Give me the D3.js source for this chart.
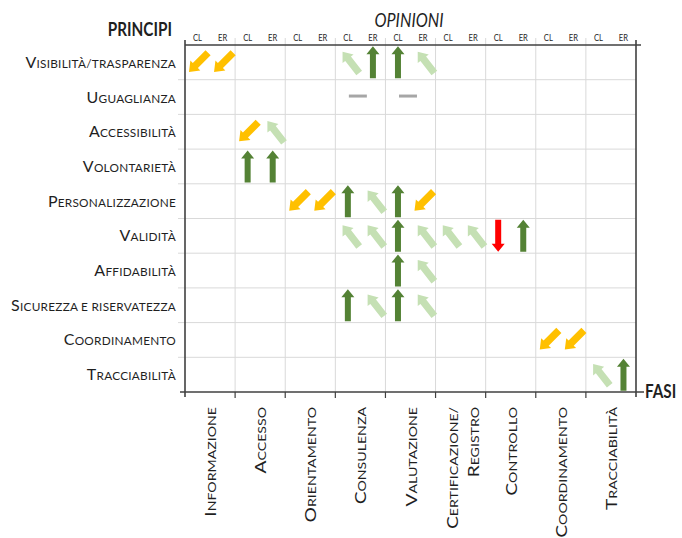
<!DOCTYPE html>
<html><head><meta charset="utf-8">
<script src="https://cdn.jsdelivr.net/npm/d3@7"></script>
<style>
body{margin:0;background:#fff;}
text{font-family:Lato,"Open Sans",sans-serif;fill:#1f1f1f;}
</style></head><body>
<svg id="c" width="682" height="538"></svg>
<script>
// ---- data ----
const phases = [["Informazione"],["Accesso"],["Orientamento"],["Consulenza"],["Valutazione"],["Certificazione/","Registro"],["Controllo"],["Coordinamento"],["Tracciabilità"]];
const opinions = ["CL","ER"];
const principles = ["Visibilità/trasparenza","Uguaglianza","Accessibilità","Volontarietà","Personalizzazione","Validità","Affidabilità","Sicurezza e riservatezza","Coordinamento","Tracciabilità"];
// one string per principle, one character per phase×opinion column
// G = strong positive (↑), L = positive (↖), Y = negative (↙), R = strong negative (↓), - = neutral
const ratings = [
  "YY....LGGL........",
  "......-.-.........",
  "..YL..............",
  "..GG..............",
  "....YYGLGY........",
  "......LLGLLLRG....",
  "........GL........",
  "......GLGL........",
  "..............YY..",
  "................LG"
];
const title = {rows:"PRINCIPI", cols:"OPINIONI", axis:"FASI"};

// ---- layout ----
const svg = d3.select("#c");
const X0=185, X1=636, Y0=45, Y1=392;
const subCols = d3.range(phases.length*opinions.length);
const xPhase = d3.scaleBand().domain(d3.range(phases.length)).range([X0,X1]);
const xSub = d3.scaleBand().domain(subCols).range([X0,X1]);
const y = d3.scaleBand().domain(d3.range(principles.length)).range([Y0,Y1]);

const grid = svg.append("g");
grid.selectAll("line.v").data(d3.range(1,phases.length)).join("line")
  .attr("x1",d=>xPhase(d)).attr("x2",d=>xPhase(d))
  .attr("y1",Y0-7).attr("y2",Y1).attr("stroke","#d9d9d9").attr("stroke-width",1);
grid.selectAll("line.h").data(d3.range(1,principles.length)).join("line")
  .attr("x1",X0-7).attr("x2",X1).attr("y1",d=>y(d)).attr("y2",d=>y(d))
  .attr("stroke","#d9d9d9").attr("stroke-width",1);

// axes
const ax = svg.append("g").attr("stroke","#404040").attr("stroke-width",1.6);
ax.append("line").attr("x1",X0).attr("x2",X1+5).attr("y1",Y0).attr("y2",Y0);
ax.append("line").attr("x1",X0-5).attr("x2",X1+8).attr("y1",Y1).attr("y2",Y1);
ax.append("line").attr("x1",X0).attr("x2",X0).attr("y1",Y0-5).attr("y2",Y1+5);
ax.append("line").attr("x1",X1).attr("x2",X1).attr("y1",Y0-5).attr("y2",Y1+5);
ax.selectAll("line.t").data(d3.range(1,phases.length)).join("line")
  .attr("x1",d=>xPhase(d)).attr("x2",d=>xPhase(d)).attr("y1",Y1).attr("y2",Y1+6)
  .attr("stroke-width",1.2);

function smallCaps(sel, str, big, small){
  sel.append("tspan").attr("font-size",big).text(str[0].toUpperCase());
  sel.append("tspan").attr("font-size",small).text(str.slice(1).toUpperCase());
}

// row labels
principles.forEach((p,i)=>{
  const t = svg.append("text").attr("x",X0-9).attr("y",y(i)+y.bandwidth()/2+5.5)
    .attr("text-anchor","end").attr("letter-spacing",0.25);
  smallCaps(t,p,16,11.8);
});

// header CL/ER
svg.append("g").selectAll("text").data(subCols).join("text")
  .attr("transform",d=>`translate(${xSub(d)+xSub.bandwidth()/2},${Y0-4}) scale(0.9,1.15)`)
  .attr("text-anchor","middle").attr("font-size",8.5).attr("fill","#404040")
  .text(d=>opinions[d%opinions.length]);

// phase labels (rotated)
phases.forEach((lines,i)=>{
  const cx = xPhase(i)+xPhase.bandwidth()/2;
  lines.forEach((ln,j)=>{
    const off = (j-(lines.length-1)/2)*21 + (lines.length>1?1.5:0);
    const t = svg.append("text")
      .attr("transform",`translate(${cx+off+6},${Y1+15}) rotate(-90) scale(1.2,1)`)
      .attr("text-anchor","end");
    smallCaps(t,ln,16,11.8);
  });
});

// titles
svg.append("text").attr("transform","translate(172,36) scale(0.85,1.1)").attr("text-anchor","end")
  .attr("font-size",18).attr("font-weight","bold").attr("fill","#000").text(title.rows);
svg.append("text").attr("transform","translate(409,27) scale(0.95,1.1)").attr("text-anchor","middle")
  .attr("font-size",17).attr("font-style","italic").attr("fill","#000").text(title.cols);
svg.append("text").attr("transform","translate(645,398) scale(0.9,1.1)")
  .attr("font-size",17).attr("font-weight","bold").attr("fill","#000").text(title.axis);

function arrowPath(L,sw,hw,hl){
  const t=-L/2, b=L/2;
  return `M0,${t}L${hw},${t+hl}L${sw},${t+hl}L${sw},${b}L${-sw},${b}L${-sw},${t+hl}L${-hw},${t+hl}Z`;
}
const styles = {
  G:{fill:"#548235", rot:0,    d:arrowPath(32,3,6.5,8),  dx:0},
  R:{fill:"#ff0000", rot:180,  d:arrowPath(32,3,6.5,8),  dx:0},
  L:{fill:"#c5e0b4", rot:-38,  d:arrowPath(27,3.6,7,9),  dx:3},
  Y:{fill:"#ffc000", rot:-135, d:arrowPath(27,3.6,7,9),  dx:1}
};
const cells = [];
ratings.forEach((row,r)=>row.split("").forEach((ch,c)=>{ if(ch!==".") cells.push({r,c,ch}); }));

const marks = svg.append("g");
marks.selectAll("path").data(cells.filter(d=>styles[d.ch])).join("path")
  .attr("d",d=>styles[d.ch].d)
  .attr("fill",d=>styles[d.ch].fill)
  .attr("transform",d=>`translate(${xSub(d.c)+xSub.bandwidth()/2+styles[d.ch].dx},${y(d.r)+y.bandwidth()/2}) rotate(${styles[d.ch].rot})`);
marks.selectAll("line").data(cells.filter(d=>d.ch==="-")).join("line")
  .attr("x1",d=>xSub(d.c)+xSub.bandwidth()/2+1).attr("x2",d=>xSub(d.c)+xSub.bandwidth()/2+19)
  .attr("y1",d=>y(d.r)+y.bandwidth()/2-1).attr("y2",d=>y(d.r)+y.bandwidth()/2-1)
  .attr("stroke","#a6a6a6").attr("stroke-width",3);
</script></body></html>
